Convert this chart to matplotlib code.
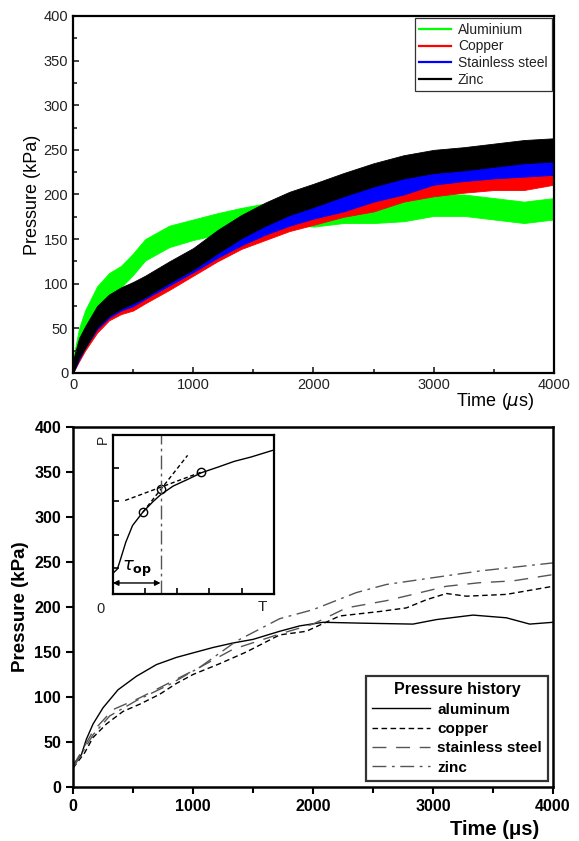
import matplotlib
matplotlib.use("Agg")
import matplotlib.pyplot as plt
from matplotlib.lines import Line2D

plt.rcParams['font.family'] = ['Liberation Sans', 'DejaVu Sans']

# ---------------- top panel: noisy pressure records (band envelopes) ----------
t_band = [0, 50, 100, 200, 300, 400, 500, 600, 800, 1000, 1200, 1400, 1600,
          1800, 2000, 2250, 2500, 2750, 3000, 3250, 3500, 3750, 4000]
al_low = [0, 30, 50, 73, 88, 96, 110, 126, 141, 149, 155, 161, 166, 166, 164,
          168, 168, 170, 176, 176, 172, 168, 172]
al_high = [16, 50, 70, 97, 112, 120, 134, 150, 165, 172, 179, 185, 190, 190,
           188, 192, 192, 194, 200, 200, 196, 192, 196]
cu_low = [0, 13, 25, 45, 59, 66, 70, 78, 93, 109, 125, 139, 149, 159, 166,
          175, 181, 192, 198, 202, 205, 205, 211]
cu_high = [8, 31, 45, 67, 81, 88, 92, 100, 115, 131, 147, 161, 171, 181, 188,
           197, 203, 214, 220, 224, 227, 227, 233]
ss_low = [0, 15, 28, 49, 62, 70, 75, 83, 98, 113, 129, 143, 155, 165, 173,
          181, 192, 200, 211, 215, 218, 220, 222]
ss_high = [12, 35, 48, 71, 84, 92, 97, 105, 120, 135, 151, 165, 177, 187, 195,
           203, 214, 222, 233, 237, 240, 242, 244]
zn_low = [0, 17, 28, 51, 64, 72, 78, 85, 101, 116, 134, 151, 165, 177, 186,
          198, 209, 218, 224, 227, 231, 235, 237]
zn_high = [14, 39, 52, 75, 88, 96, 102, 109, 125, 140, 160, 177, 191, 203,
           212, 224, 235, 244, 250, 253, 257, 261, 263]
top_labels = ["Aluminium", "Copper", "Stainless steel", "Zinc"]
top_colors = ["#00ff00", "#ff0000", "#0000ff", "#000000"]

# ---------------- bottom panel: smoothed pressure histories -------------------
al_t = [0, 70, 111, 167, 250, 375, 528, 695, 862, 1000, 1167, 1333, 1500,
        1722, 1889, 2083, 2417, 2833, 3028, 3333, 3611, 3806, 4000]
al_p = [25, 36, 53, 70, 88, 108, 123, 136, 144, 149, 155, 160, 164, 173, 179,
        183, 182, 181, 186, 191, 188, 181, 183]
cu_t = [0, 97, 167, 278, 417, 556, 722, 861, 1000, 1222, 1444, 1722, 1944,
        2222, 2556, 2778, 2944, 3111, 3278, 3611, 4000]
cu_p = [21, 38, 55, 70, 84, 92, 103, 115, 125, 137, 150, 169, 173, 190, 195,
        199, 208, 215, 212, 214, 223]
ss_t = [0, 167, 333, 556, 806, 1056, 1333, 1722, 2000, 2278, 2611, 2833, 3111,
        3389, 3667, 4000]
ss_p = [23, 62, 86, 99, 116, 133, 153, 170, 181, 199, 207, 214, 223, 227,
        229, 236]
zn_t = [0, 167, 306, 528, 806, 1056, 1361, 1722, 2000, 2361, 2611, 2972, 3389,
        4000]
zn_p = [21, 58, 79, 96, 114, 133, 162, 187, 197, 216, 225, 232, 240, 249]
bottom_labels = ["aluminum", "copper", "stainless steel", "zinc"]

# ---------------- inset (schematic) -------------------------------------------
inset_x = [0, 0.14, 0.24, 0.4, 0.61, 0.93, 1.24, 1.48, 1.87, 2.3, 2.75, 3.24,
           3.77, 4.29, 5.0]
inset_y = [0.62, 0.75, 1.05, 1.55, 2.05, 2.45, 2.76, 2.97, 3.23, 3.42, 3.63,
           3.79, 3.97, 4.1, 4.31]
circle_x = [0.93, 1.48, 2.75]
circle_y = [2.45, 3.14, 3.65]
steep_x = [0.93, 2.32]
steep_y = [2.45, 4.15]
shallow_x = [0.38, 2.75]
shallow_y = [2.8, 3.65]
tau_op = 1.48

fig = plt.figure(figsize=(5.79, 8.41), dpi=100)

# ===== top axes =====
ax1 = fig.add_axes([0.1261, 0.5565, 0.8307, 0.4245])
lows = [al_low, cu_low, ss_low, zn_low]
highs = [al_high, cu_high, ss_high, zn_high]
for lo, hi, c in zip(lows, highs, top_colors):
    ax1.fill_between(t_band, lo, hi, color=c, lw=0.6, edgecolor=c)
ax1.set_xlim(0, 4000)
ax1.set_ylim(0, 400)
ax1.set_xticks([0, 1000, 2000, 3000, 4000])
ax1.set_xticks([500, 1500, 2500, 3500], minor=True)
ax1.set_yticks(range(0, 401, 50))
ax1.set_yticks(range(25, 400, 50), minor=True)
ax1.tick_params(which='both', direction='in', top=False, right=False,
                labelsize=10.5, width=1.2, colors='#222222')
ax1.tick_params(which='major', length=4)
ax1.tick_params(which='minor', length=3)
for s in ax1.spines.values():
    s.set_linewidth(1.6)
ax1.set_ylabel("Pressure (kPa)", fontsize=13, labelpad=2)
fig.text(0.855, 0.522, "Time ($\\mu$s)", fontsize=13, ha='center', va='center')
handles = [Line2D([], [], color=c, lw=1.6) for c in top_colors]
leg1 = ax1.legend(handles, top_labels, loc='upper right',
                  bbox_to_anchor=(0.995, 0.993), borderaxespad=0,
                  fontsize=10, frameon=True, fancybox=False, handlelength=2.3,
                  handletextpad=0.5, labelspacing=0.2, borderpad=0.3)
leg1.get_frame().set_edgecolor('black')
leg1.get_frame().set_linewidth(0.9)
for txt in leg1.get_texts():
    txt.set_color('#222222')

# ===== bottom axes =====
ax2 = fig.add_axes([0.1261, 0.0642, 0.829, 0.4281])
ax2.plot(al_t, al_p, color='black', lw=1.0, ls='-', label=bottom_labels[0])
ax2.plot(cu_t, cu_p, color='black', lw=1.0, ls=(0, (4, 2.5)), label=bottom_labels[1])
ax2.plot(ss_t, ss_p, color='#555555', lw=1.0, ls=(0, (10, 7)), label=bottom_labels[2])
ax2.plot(zn_t, zn_p, color='#555555', lw=1.0, ls=(0, (10, 4, 2, 4)), label=bottom_labels[3])
ax2.set_xlim(0, 4000)
ax2.set_ylim(0, 400)
ax2.set_xticks([0, 1000, 2000, 3000, 4000])
ax2.set_xticks([500, 1500, 2500, 3500], minor=True)
ax2.set_yticks(range(0, 401, 50))
ax2.tick_params(which='both', direction='out', top=False, right=False,
                width=1.5)
ax2.tick_params(which='major', length=5, labelsize=11.5)
ax2.tick_params(which='minor', length=4)
for lab in ax2.get_xticklabels() + ax2.get_yticklabels():
    lab.set_fontweight('bold')
for s in ax2.spines.values():
    s.set_linewidth(1.8)
ax2.set_ylabel("Pressure (kPa)", fontsize=13.5, fontweight='bold', labelpad=4)
fig.text(0.855, 0.002, "Time (\u03bcs)", fontsize=14.5, fontweight='bold',
         ha='center', va='bottom')
leg2 = ax2.legend(loc='lower right', bbox_to_anchor=(0.99, 0.017),
                  borderaxespad=0, title="Pressure history",
                  prop={'weight': 'bold', 'size': 11},
                  title_fontproperties={'weight': 'bold', 'size': 11.5},
                  frameon=True, fancybox=False, handlelength=3.8,
                  handletextpad=0.5, labelspacing=0.35, borderpad=0.4)
leg2.get_frame().set_edgecolor('black')
leg2.get_frame().set_linewidth(1.6)

# ===== inset =====
ax3 = fig.add_axes([0.195, 0.2937, 0.278, 0.1891])
ax3.plot(inset_x, inset_y, color='black', lw=1.0)
ax3.plot(steep_x, steep_y, color='black', lw=1.0, ls=(0, (3, 2)))
ax3.plot(shallow_x, shallow_y, color='black', lw=1.0, ls=(0, (3, 2)))
ax3.plot(circle_x, circle_y, 'o', mfc='none', mec='black', ms=6, mew=1.0)
ax3.axvline(tau_op, color='#555555', lw=1.0, ls=(0, (10, 3, 2, 3)))
ax3.annotate('', xy=(0, 0.33), xytext=(tau_op, 0.33),
             arrowprops=dict(arrowstyle='<|-|>', color='black', lw=1.0,
                             shrinkA=0, shrinkB=0, mutation_scale=8))
ax3.text(tau_op / 2, 0.45, r'$\tau_{\mathbf{op}}$', fontsize=13, ha='center',
         va='bottom')
ax3.set_xlim(0, 5)
ax3.set_ylim(0, 4.76)
ax3.set_xticks([1, 2, 3, 4, 5])
ax3.set_yticks([0.77, 1.77, 2.77, 3.77])
ax3.tick_params(direction='in', length=4, width=1.2, labelbottom=False,
                labelleft=False, top=False, right=False)
for s in ax3.spines.values():
    s.set_linewidth(1.6)
ax3.text(-0.05, -0.05, "0", transform=ax3.transAxes, ha='right', va='top',
         fontsize=10.5, color='#222222')
ax3.text(0.96, -0.04, "T", transform=ax3.transAxes, ha='right', va='top',
         fontsize=11, color='#222222')
ax3.text(-0.02, 1.0, "P", transform=ax3.transAxes, ha='right', va='top',
         fontsize=10, rotation=90, color='#222222')

fig.savefig("out.png", dpi=100)
